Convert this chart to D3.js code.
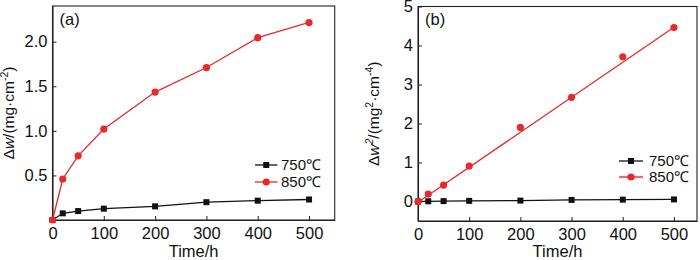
<!DOCTYPE html>
<html><head><meta charset="utf-8">
<script src="https://cdn.jsdelivr.net/npm/d3@7"></script>
<style>body{margin:0;background:#fff}svg{display:block}text{font-family:"Liberation Sans",Arial,sans-serif;fill:#111}</style>
</head><body><svg id="c" width="700" height="260"></svg>
<script>
// Data
const times = [0, 20, 50, 100, 200, 300, 400, 500];
const w750 = [0, 0.075, 0.10, 0.127, 0.153, 0.20, 0.217, 0.23];
const w850 = [0, 0.46, 0.72, 1.02, 1.435, 1.71, 2.045, 2.215];
const w2_750 = [0, 0.005, 0.01, 0.016, 0.023, 0.04, 0.047, 0.053];
const w2_850 = [0, 0.19, 0.42, 0.91, 1.90, 2.67, 3.71, 4.46];
const fitT = [0, 500];
const fit850 = [-0.02, 4.47];
const xTicks = [0, 100, 200, 300, 400, 500];
const yTicksA = [0.5, 1.0, 1.5, 2.0];
const yTicksB = [0, 1, 2, 3, 4, 5];
const seriesNames = ["750℃", "850℃"];

const RED = "#e8282b", BLK = "#111";
const svg = d3.select("#c");
const FS = 16.5;
const FONT = '"Liberation Sans",Arial,sans-serif';

function panel(cfg) {
  const x = d3.scaleLinear().domain(cfg.xd).range(cfg.xr);
  const y = d3.scaleLinear().domain(cfg.yd).range(cfg.yr);
  const g = svg.append("g");
  g.append("rect").attr("x", cfg.xr[0]).attr("y", cfg.yr[1])
    .attr("width", cfg.xr[1] - cfg.xr[0]).attr("height", cfg.yr[0] - cfg.yr[1])
    .attr("fill", "none").attr("stroke", "#222").attr("stroke-width", 1.1);
  const xa = g.append("g").attr("transform", `translate(0,${cfg.yr[0]})`)
    .call(d3.axisBottom(x).tickValues(xTicks).tickSizeInner(-4).tickSizeOuter(0).tickPadding(7).tickFormat(d3.format("d")));
  const ya = g.append("g").attr("transform", `translate(${cfg.xr[0]},0)`)
    .call(d3.axisLeft(y).tickValues(cfg.yt).tickSizeInner(-4).tickSizeOuter(0).tickPadding(5).tickFormat(cfg.yf));
  [xa, ya].forEach(a => {
    a.attr("font-size", FS).attr("font-family", FONT);
    a.select(".domain").attr("stroke", "#222").attr("stroke-width", 1.1);
    a.selectAll(".tick line").attr("stroke", "#222");
    a.selectAll(".tick text").attr("font-size", FS).attr("fill", "#111");
  });
  g.append("text").attr("x", (cfg.xr[0] + cfg.xr[1]) / 2).attr("y", 257)
    .attr("text-anchor", "middle").attr("font-size", FS).text("Time/h");
  const yl = g.append("text").attr("transform", `translate(${cfg.ylx},${(cfg.yr[0] + cfg.yr[1]) / 2}) rotate(-90)`)
    .attr("text-anchor", "middle").attr("font-size", 15.5);
  cfg.ylab(yl);
  g.append("text").attr("x", cfg.xr[0] + 7).attr("y", 25).attr("font-size", FS).text(cfg.tag);
  return {x, y, g};
}

const line = (x, y) => d3.line().x(d => x(d[0])).y(d => y(d[1]));

// Panel A
const A = panel({xd: [0, 550], xr: [52.5, 334.7], yd: [0, 2.4], yr: [220, 6], yt: yTicksA,
  yf: d3.format(".1f"), tag: "(a)", ylx: 14,
  ylab: t => {
    t.append("tspan").text("Δ");
    t.append("tspan").attr("font-style", "italic").text("w");
    t.append("tspan").text("/(mg·cm");
    t.append("tspan").attr("font-size", 10.5).attr("dy", -6).text("-2");
    t.append("tspan").attr("dy", 6).text(")");
  }});
const dA750 = times.map((t, i) => [t, w750[i]]);
const dA850 = times.map((t, i) => [t, w850[i]]);
A.g.append("path").attr("d", line(A.x, A.y)(dA750)).attr("fill", "none").attr("stroke", BLK).attr("stroke-width", 1.3);
A.g.append("path").attr("d", line(A.x, A.y)(dA850)).attr("fill", "none").attr("stroke", RED).attr("stroke-width", 1.3);
A.g.selectAll(".s").data(dA750).join("rect").attr("x", d => A.x(d[0]) - 3).attr("y", d => A.y(d[1]) - 3)
  .attr("width", 6).attr("height", 6).attr("fill", BLK);
A.g.selectAll(".c").data(dA850).join("circle").attr("cx", d => A.x(d[0])).attr("cy", d => A.y(d[1]))
  .attr("r", 3.6).attr("fill", RED);

// Panel B
const B = panel({xd: [0, 545], xr: [418, 697], yd: [-0.5, 5], yr: [221, 6.5], yt: yTicksB,
  yf: d3.format("d"), tag: "(b)", ylx: 379,
  ylab: t => {
    t.append("tspan").text("Δ");
    t.append("tspan").attr("font-style", "italic").text("w");
    t.append("tspan").attr("font-size", 10.5).attr("dy", -6).attr("font-style", "italic").text("2");
    t.append("tspan").attr("dy", 6).text("/(mg");
    t.append("tspan").attr("font-size", 10.5).attr("dy", -6).text("2");
    t.append("tspan").attr("dy", 6).text("·cm");
    t.append("tspan").attr("font-size", 10.5).attr("dy", -6).text("-4");
    t.append("tspan").attr("dy", 6).text(")");
  }});
const dB750 = times.map((t, i) => [t, w2_750[i]]);
const dB850 = times.map((t, i) => [t, w2_850[i]]);
const dFit = fitT.map((t, i) => [t, fit850[i]]);
B.g.append("path").attr("d", line(B.x, B.y)(dB750)).attr("fill", "none").attr("stroke", BLK).attr("stroke-width", 1.3);
B.g.append("path").attr("d", line(B.x, B.y)(dFit)).attr("fill", "none").attr("stroke", RED).attr("stroke-width", 1.3);
B.g.selectAll(".s").data(dB750).join("rect").attr("x", d => B.x(d[0]) - 3).attr("y", d => B.y(d[1]) - 3)
  .attr("width", 6).attr("height", 6).attr("fill", BLK);
B.g.selectAll(".c").data(dB850).join("circle").attr("cx", d => B.x(d[0])).attr("cy", d => B.y(d[1]))
  .attr("r", 3.6).attr("fill", RED);

// Legends
function legend(x0, x1, tx, ys, redW, redCol) {
  const cols = [BLK, redCol];
  seriesNames.forEach((n, i) => {
    const y = ys[i];
    svg.append("line").attr("x1", x0).attr("x2", x1).attr("y1", y).attr("y2", y)
      .attr("stroke", cols[i]).attr("stroke-width", i === 1 ? redW : 1.3);
    const m = (x0 + x1) / 2;
    if (i === 0) svg.append("rect").attr("x", m - 3).attr("y", y - 3).attr("width", 6).attr("height", 6).attr("fill", BLK);
    else svg.append("circle").attr("cx", m).attr("cy", y).attr("r", 3.6).attr("fill", RED);
    svg.append("text").attr("x", tx).attr("y", y).attr("dy", "0.36em").attr("font-size", 15).text(n);
  });
}
legend(255, 277.5, 281, [165, 182], 1.3, RED);
legend(619, 643, 649, [161, 177], 2.2, "#ee6a6a");
</script></body></html>
